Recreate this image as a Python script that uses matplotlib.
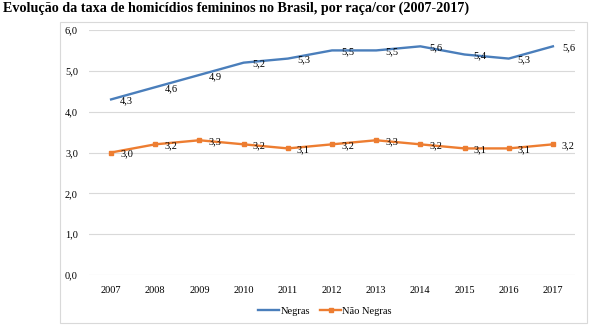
import matplotlib.pyplot as plt
from matplotlib.patches import Rectangle
from matplotlib.lines import Line2D

anos = ["2007", "2008", "2009", "2010", "2011", "2012", "2013", "2014", "2015", "2016", "2017"]
negras = [4.3, 4.6, 4.9, 5.2, 5.3, 5.5, 5.5, 5.6, 5.4, 5.3, 5.6]
nao_negras = [3.0, 3.2, 3.3, 3.2, 3.1, 3.2, 3.3, 3.2, 3.1, 3.1, 3.2]
y_ticks = [0, 1, 2, 3, 4, 5, 6]

azul = "#4a7ebb"
laranja = "#ed7d31"
cinza = "#d9d9d9"

plt.rcParams["font.family"] = ["Liberation Serif", "DejaVu Serif"]

fig = plt.figure(figsize=(6.06, 3.25), dpi=100)

# moldura da área do gráfico
fig.patches.append(Rectangle((60 / 606, 2 / 325), 527 / 606, 301 / 325,
                             transform=fig.transFigure, fill=False,
                             edgecolor=cinza, linewidth=0.8))

fig.text(3 / 606, 1 - 2 / 325,
         "Evolução da taxa de homicídios femininos no Brasil, por raça/cor (2007-2017)",
         ha="left", va="top", fontsize=10.2, fontweight="bold")

ax = fig.add_axes([89 / 606, 1 - 275 / 325, 486 / 606, 245 / 325])
x = list(range(len(anos)))

ax.plot(x, negras, color=azul, linewidth=1.7, label="Negras")
ax.plot(x, nao_negras, color=laranja, linewidth=1.7, marker="s",
        markersize=3.5, label="Não Negras")

# rótulos de dados à direita de cada ponto
for serie in (negras, nao_negras):
    for xi, v in zip(x, serie):
        ax.annotate(f"{v:.1f}".replace(".", ","), (xi, v), xytext=(6.5, -1),
                    textcoords="offset points", ha="left", va="center",
                    fontsize=7.5)

ax.set_xlim(-0.5, len(anos) - 0.5)
ax.set_ylim(0, 6)
ax.set_xticks(x)
ax.set_xticklabels(anos, fontsize=7.5)
ax.set_yticks(y_ticks)
ax.set_yticklabels([f"{t:.1f}".replace(".", ",") for t in y_ticks], fontsize=7.5)
ax.tick_params(length=0, pad=8)
ax.grid(axis="y", color=cinza, linewidth=0.8)
ax.set_axisbelow(True)
for s in ax.spines.values():
    s.set_visible(False)

handles = [Line2D([], [], color=azul, linewidth=1.7),
           Line2D([], [], color=laranja, linewidth=1.7, marker="s", markersize=3.5)]
fig.legend(handles, ["Negras", "Não Negras"], loc="center",
           bbox_to_anchor=(325 / 606, 1 - 311 / 325), ncol=2, frameon=False,
           fontsize=7.5, handlelength=2.0, handletextpad=0.1, columnspacing=1.0)

fig.savefig("out.png", dpi=100)
